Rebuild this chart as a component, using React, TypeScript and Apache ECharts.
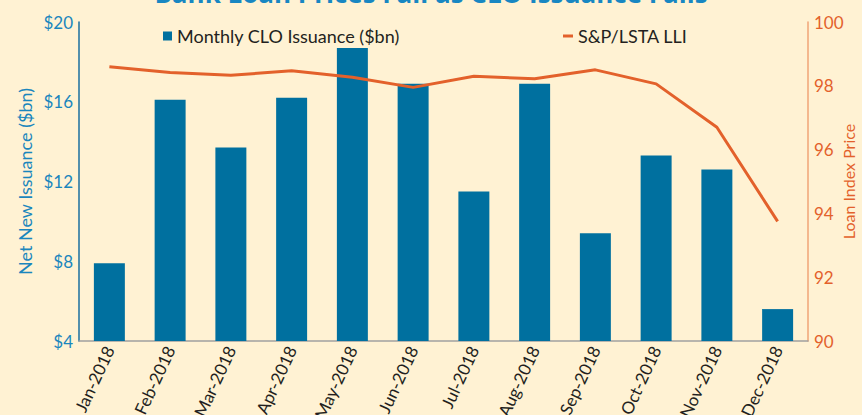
import React, { useEffect, useRef } from "react";
import * as echarts from "echarts";

const categories = ["Jan-2018", "Feb-2018", "Mar-2018", "Apr-2018", "May-2018", "Jun-2018", "Jul-2018", "Aug-2018", "Sep-2018", "Oct-2018", "Nov-2018", "Dec-2018"];
const cloIssuance = [7.9, 16.1, 13.7, 16.2, 18.7, 16.9, 11.5, 16.9, 9.4, 13.3, 12.6, 5.6];
const loanIndex = [98.6, 98.42, 98.33, 98.47, 98.27, 97.95, 98.3, 98.22, 98.5, 98.06, 96.7, 93.75];
const titleText = "Bank Loan Prices Fall as CLO Issuance Falls";

const BLUE = "#00709f";
const BLUE_TEXT = "#1a86bd";
const ORANGE = "#e3612b";
const FONT = "Lato, 'Open Sans', sans-serif";

export default function App() {
  const ref = useRef<HTMLDivElement>(null);
  useEffect(() => {
    const chart = echarts.init(ref.current!, null, { renderer: "svg" });
    chart.setOption({
      animation: false,
      backgroundColor: "#fff2d3",
      textStyle: { fontFamily: FONT },
      graphic: [
        {
          type: "text",
          left: "center",
          top: -20,
          style: { text: titleText, font: "bold 26px 'Open Sans', sans-serif", fill: "#1887c2" },
        },
      ],
      legend: [
        {
          data: ["Monthly CLO Issuance ($bn)"],
          left: 158,
          top: 22,
          icon: "rect",
          itemWidth: 9,
          itemHeight: 9,
          itemGap: 8,
          textStyle: { fontSize: 18, color: "#231f20", fontFamily: FONT },
        },
        {
          data: ["S&P/LSTA LLI"],
          left: 558,
          top: 22,
          icon: "rect",
          itemWidth: 10,
          itemHeight: 3,
          textStyle: { fontSize: 18, color: "#231f20", fontFamily: FONT },
        },
      ],
      grid: { left: 79, right: 54, top: 22, bottom: 74, containLabel: false, outerBoundsMode: "none" },
      xAxis: {
        type: "category",
        data: categories,
        axisLine: { lineStyle: { color: "#a0a0a0", width: 1.5 } },
        axisTick: { show: false },
        axisLabel: { rotate: 65, fontSize: 17, color: "#231f20", margin: 6, interval: 0, fontFamily: FONT },
      },
      yAxis: [
        {
          type: "value",
          min: 4,
          max: 20,
          interval: 4,
          name: "Net New Issuance ($bn)",
          nameLocation: "middle",
          nameGap: 45,
          nameMoveOverlap: false,
          nameTextStyle: { color: BLUE_TEXT, fontSize: 18, fontFamily: FONT },
          axisLine: { show: true, lineStyle: { color: "#1a6f9f", width: 1.5 } },
          axisTick: { show: false },
          splitLine: { show: false },
          axisLabel: { color: BLUE_TEXT, fontSize: 17, formatter: (v: number) => "$" + v, margin: 6 },
        },
        {
          type: "value",
          min: 90,
          max: 100,
          interval: 2,
          name: "Loan Index Price",
          nameLocation: "middle",
          nameGap: 32,
          nameMoveOverlap: false,
          nameTextStyle: { color: ORANGE, fontSize: 16, fontFamily: FONT },
          axisLine: { show: true, lineStyle: { color: "#f0a477", width: 1.5 } },
          axisTick: { show: false },
          splitLine: { show: false },
          axisLabel: { color: ORANGE, fontSize: 17, margin: 6 },
        },
      ],
      series: [
        {
          name: "Monthly CLO Issuance ($bn)",
          type: "bar",
          data: cloIssuance,
          barWidth: "51%",
          itemStyle: { color: BLUE },
        },
        {
          name: "S&P/LSTA LLI",
          type: "line",
          yAxisIndex: 1,
          data: loanIndex,
          symbol: "none",
          lineStyle: { color: ORANGE, width: 3 },
          itemStyle: { color: ORANGE },
        },
      ],
    });
    return () => chart.dispose();
  }, []);
  return <div ref={ref} style={{ width: 862, height: 415, position: "fixed", left: 0, top: 0 }} />;
}
